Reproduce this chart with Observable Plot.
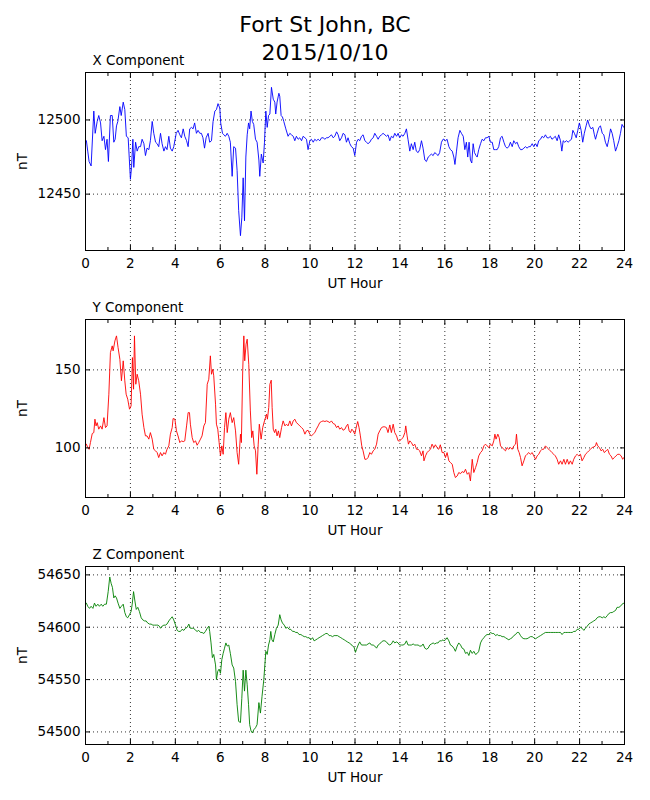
<!DOCTYPE html>
<html>
<head>
<meta charset="utf-8">
<script src="https://cdn.jsdelivr.net/npm/d3@7"></script>
<script src="https://cdn.jsdelivr.net/npm/@observablehq/plot@0.6"></script>
<style>
  html, body { margin: 0; padding: 0; background: white; }
  #fig { position: relative; width: 650px; height: 800px; background: white; font-family: "DejaVu Sans", sans-serif; }
  #title { position: absolute; left: 0; top: 11px; width: 650px; text-align: center; font-size: 22px; line-height: 28px; color: black; z-index: 10; }
  .panel { position: absolute; left: 0; }
</style>
</head>
<body>
<div id="fig">
  <div id="title">Fort St John, BC<br>2015/10/10</div>
</div>
<script>
const xHours = [0.04,0.10,0.16,0.25,0.37,0.43,0.52,0.59,0.67,0.74,0.82,0.89,0.96,1.02,1.11,1.19,1.26,1.32,1.38,1.44,1.53,1.59,1.68,1.75,1.82,1.90,2.00,2.05,2.11,2.15,2.23,2.30,2.37,2.45,2.52,2.60,2.67,2.74,2.82,2.89,2.97,3.04,3.12,3.19,3.26,3.34,3.41,3.49,3.56,3.63,3.71,3.78,3.86,3.93,4.04,4.12,4.20,4.27,4.35,4.42,4.50,4.57,4.64,4.72,4.79,4.86,4.94,5.01,5.09,5.16,5.23,5.30,5.37,5.46,5.53,5.61,5.68,5.76,5.83,5.90,5.98,6.02,6.10,6.16,6.23,6.31,6.38,6.45,6.53,6.60,6.68,6.75,6.82,6.90,6.96,7.02,7.08,7.14,7.20,7.26,7.31,7.37,7.43,7.49,7.57,7.64,7.72,7.76,7.83,7.91,7.97,8.03,8.09,8.15,8.21,8.28,8.36,8.43,8.47,8.53,8.61,8.65,8.71,8.77,8.83,8.92,9.02,9.10,9.17,9.25,9.32,9.39,9.47,9.54,9.62,9.69,9.77,9.84,9.91,9.99,10.06,10.14,10.21,10.28,10.36,10.43,10.51,10.58,10.66,10.73,10.80,10.88,10.95,11.03,11.10,11.18,11.25,11.32,11.40,11.47,11.55,11.62,11.69,11.77,11.84,11.92,11.99,12.07,12.14,12.21,12.29,12.36,12.44,12.51,12.58,12.66,12.73,12.81,12.88,12.96,13.03,13.10,13.18,13.25,13.33,13.40,13.47,13.55,13.62,13.70,13.77,13.85,13.92,13.99,14.07,14.14,14.22,14.29,14.36,14.44,14.51,14.59,14.66,14.73,14.81,14.88,14.96,15.03,15.11,15.18,15.26,15.33,15.40,15.48,15.55,15.63,15.70,15.77,15.85,15.92,15.96,16.03,16.10,16.18,16.25,16.33,16.40,16.45,16.52,16.59,16.67,16.74,16.82,16.89,16.96,17.02,17.08,17.14,17.20,17.26,17.32,17.39,17.44,17.51,17.59,17.66,17.74,17.81,17.88,17.96,18.03,18.11,18.18,18.26,18.33,18.40,18.48,18.55,18.63,18.70,18.77,18.85,18.92,19.00,19.07,19.15,19.22,19.29,19.37,19.44,19.52,19.59,19.66,19.74,19.81,19.89,19.96,20.04,20.11,20.18,20.26,20.33,20.40,20.48,20.55,20.63,20.70,20.77,20.85,20.92,21.00,21.07,21.15,21.21,21.27,21.34,21.42,21.49,21.56,21.64,21.70,21.77,21.85,21.92,21.99,22.07,22.14,22.21,22.29,22.36,22.44,22.51,22.59,22.66,22.71,22.78,22.86,22.93,23.01,23.08,23.15,23.23,23.30,23.38,23.45,23.52,23.60,23.67,23.75,23.82,23.89,23.97];
const xNT = [12486,12479,12472,12469,12506,12491,12499,12503,12498,12486,12489,12480,12487,12472,12503,12503,12485,12487,12496,12499,12509,12503,12512,12507,12489,12488,12460,12468,12487,12468,12485,12479,12482,12482,12487,12484,12476,12481,12480,12486,12499,12491,12485,12484,12482,12491,12484,12479,12482,12480,12489,12481,12479,12482,12491,12493,12490,12488,12494,12489,12486,12482,12494,12495,12494,12498,12491,12493,12491,12491,12488,12481,12488,12491,12485,12486,12499,12506,12507,12511,12508,12498,12491,12490,12489,12491,12489,12485,12462,12482,12481,12466,12439,12422,12434,12461,12432,12475,12490,12498,12494,12506,12499,12497,12487,12485,12473,12462,12477,12471,12485,12506,12495,12503,12504,12522,12514,12512,12504,12512,12518,12516,12503,12502,12499,12494,12489,12491,12490,12489,12486,12489,12487,12488,12486,12489,12488,12487,12480,12486,12487,12485,12487,12486,12487,12486,12488,12488,12487,12488,12488,12489,12490,12488,12489,12492,12490,12486,12488,12491,12490,12485,12488,12484,12482,12481,12476,12485,12487,12486,12489,12490,12486,12485,12484,12485,12487,12488,12491,12489,12487,12489,12490,12491,12490,12489,12490,12486,12489,12488,12491,12489,12491,12488,12490,12489,12491,12494,12487,12479,12484,12480,12485,12479,12478,12480,12486,12481,12473,12472,12475,12476,12477,12476,12478,12477,12476,12478,12485,12487,12487,12486,12487,12482,12480,12479,12475,12470,12479,12488,12493,12491,12489,12480,12485,12475,12485,12473,12471,12484,12478,12476,12475,12480,12484,12487,12486,12488,12488,12489,12485,12485,12480,12480,12480,12482,12488,12489,12485,12482,12481,12482,12485,12482,12486,12484,12485,12482,12480,12480,12481,12482,12481,12482,12482,12484,12482,12484,12482,12486,12487,12489,12488,12490,12488,12488,12489,12487,12488,12489,12486,12490,12486,12479,12486,12485,12486,12485,12486,12487,12493,12491,12488,12493,12498,12493,12485,12491,12496,12500,12496,12494,12495,12490,12487,12491,12495,12496,12491,12490,12485,12482,12487,12494,12491,12486,12479,12482,12486,12491,12497,12495];

const yHours = [0.04,0.10,0.16,0.22,0.30,0.37,0.42,0.47,0.52,0.59,0.67,0.74,0.82,0.89,0.96,1.04,1.11,1.19,1.23,1.31,1.38,1.45,1.53,1.60,1.68,1.75,1.81,1.88,1.96,2.03,2.09,2.14,2.18,2.24,2.30,2.37,2.45,2.52,2.60,2.67,2.74,2.82,2.89,2.97,3.04,3.12,3.19,3.26,3.34,3.41,3.49,3.56,3.63,3.71,3.78,3.86,3.90,3.98,4.05,4.12,4.20,4.27,4.35,4.42,4.50,4.57,4.63,4.67,4.75,4.82,4.90,4.97,5.04,5.12,5.19,5.27,5.34,5.42,5.49,5.56,5.61,5.67,5.71,5.79,5.83,5.89,5.95,6.01,6.07,6.13,6.19,6.25,6.31,6.38,6.45,6.53,6.60,6.68,6.75,6.82,6.90,6.94,7.00,7.05,7.09,7.15,7.20,7.27,7.34,7.40,7.45,7.51,7.57,7.63,7.69,7.74,7.82,7.89,7.97,8.06,8.10,8.16,8.21,8.27,8.31,8.36,8.42,8.47,8.53,8.59,8.65,8.73,8.80,8.88,8.95,9.02,9.10,9.17,9.25,9.32,9.39,9.47,9.54,9.62,9.69,9.77,9.84,9.91,9.99,10.06,10.14,10.21,10.28,10.36,10.43,10.51,10.58,10.66,10.73,10.80,10.88,10.95,11.03,11.10,11.18,11.25,11.32,11.40,11.47,11.55,11.62,11.68,11.74,11.80,11.86,11.92,11.99,12.07,12.12,12.18,12.24,12.30,12.36,12.44,12.51,12.58,12.66,12.73,12.81,12.88,12.96,13.03,13.10,13.18,13.25,13.33,13.40,13.47,13.55,13.62,13.70,13.77,13.85,13.92,13.99,14.07,14.14,14.22,14.26,14.32,14.38,14.44,14.51,14.59,14.66,14.74,14.81,14.88,14.96,15.03,15.07,15.14,15.21,15.28,15.36,15.43,15.51,15.58,15.65,15.73,15.80,15.88,15.96,16.03,16.10,16.18,16.25,16.33,16.40,16.47,16.55,16.62,16.70,16.77,16.85,16.92,17.00,17.07,17.14,17.22,17.29,17.37,17.44,17.51,17.59,17.66,17.74,17.81,17.88,17.96,18.03,18.11,18.18,18.23,18.28,18.36,18.42,18.48,18.55,18.63,18.70,18.77,18.85,18.92,19.00,19.07,19.15,19.19,19.25,19.31,19.37,19.44,19.52,19.59,19.66,19.74,19.81,19.89,19.96,20.04,20.11,20.18,20.26,20.33,20.40,20.48,20.55,20.63,20.70,20.77,20.85,20.92,21.00,21.07,21.15,21.22,21.30,21.37,21.45,21.52,21.59,21.67,21.74,21.82,21.89,21.96,22.04,22.11,22.19,22.26,22.34,22.41,22.48,22.56,22.63,22.71,22.75,22.81,22.88,22.96,23.03,23.10,23.18,23.25,23.33,23.40,23.47,23.55,23.62,23.70,23.77,23.85,23.92,23.97];
const yNT = [102.4,100.2,99.1,103.4,109.2,109.8,118.4,114.1,116.2,112,114.1,112,119.4,113,114.1,134.4,161.1,165.4,162.2,168.6,171.8,164.3,156.8,143,155.8,143,134.4,131.2,124.8,126.9,157.9,137.6,171.8,140.8,147.2,143,134.4,121.6,113,107.7,107.7,105.6,109.8,105.6,99.1,98.1,97,93.8,97,94.9,97,95.9,99.1,101.3,108.8,113,118.8,118.4,110.9,107.7,103.4,104.5,104,104.5,114.1,122.6,122.6,115.2,106.6,103.4,104.5,101.7,103.4,105.6,107.7,114.1,116.2,140.8,144,159,147.2,150.4,146.2,128,115.2,112,103.4,94.9,101.3,95.9,113,122.6,109.8,118.4,122.6,116.2,119.4,110.9,97,89.5,108.8,103.4,149.4,171.8,155.8,166.5,169.7,153.6,123.7,106.6,110.9,101.3,98.1,83.1,102.4,115.2,105.6,113,117.3,121.6,118.4,125.9,140.8,143.4,125.9,112,109.8,112,107.7,110.9,106.6,113,117.3,114.1,115.2,114.1,117.3,114.1,117.3,118.4,116.2,115.2,114.1,113,112,108.8,110.9,111.3,108.8,107.7,108.8,109.8,112,114.1,116.2,116.9,117.3,116.9,117.3,116.9,116.2,117.3,115.6,115.2,113,114.1,112,113,111.3,112,114.1,115.2,110.9,109.8,112,110.9,108.8,114.1,116.9,113,107.7,101.3,98.1,92.7,92.7,93.8,97,95.9,98.1,99.1,102.4,108.8,110.9,113,113.5,113.5,113,109.8,114.7,109.8,115.2,109.8,107.7,104.5,104.5,105.6,106.6,109.8,114.1,107.7,102.4,104.5,103.4,101.3,102.4,99.1,99.1,98.1,94.9,98.1,91.7,94.9,97,98.1,99.1,102.4,100.2,102,100.2,99.1,102,97,97,93.8,97,91.7,90.6,89.5,84.2,81,82,84.2,83.5,84.8,84.2,86.3,83.1,84.2,78.8,92.7,84.2,87.4,90.6,94.9,97,98.1,101.3,102.4,101.3,100.2,102.4,101.3,104.5,108.8,105.6,108.8,106.6,101.3,100.2,99.1,98.1,100.2,99.1,100.2,99.1,101.3,102.4,108.8,99.1,97,93.8,88.5,91.7,94.9,95.9,97,95.9,97,94.9,92.7,94.9,95.9,98.1,99.1,99.1,101.3,100.2,99.1,98.1,97,95.9,94.9,92.7,89.5,91.7,89.5,92.7,89.5,92.7,89.5,91.7,89.5,92.7,94.9,95.9,94.9,95.9,91.7,93.8,95.9,97,98.1,99.1,100.2,100.6,101.3,103.4,101.3,100.2,98.1,99.1,97,98.1,99.1,95.9,94.9,92.7,93.8,94.9,95.9,95.9,94.9,92.7,93.8];

const zHours = [0.04,0.10,0.18,0.25,0.33,0.40,0.47,0.55,0.62,0.70,0.77,0.85,0.93,1.01,1.08,1.14,1.20,1.26,1.32,1.38,1.45,1.53,1.60,1.68,1.75,1.82,1.88,1.96,2.03,2.08,2.14,2.20,2.26,2.33,2.40,2.48,2.55,2.63,2.70,2.77,2.85,2.92,3.00,3.07,3.15,3.22,3.29,3.34,3.41,3.49,3.56,3.63,3.71,3.78,3.86,3.93,4.01,4.08,4.15,4.23,4.30,4.38,4.45,4.53,4.60,4.67,4.75,4.82,4.90,4.97,5.04,5.12,5.19,5.27,5.34,5.42,5.49,5.53,5.59,5.65,5.71,5.79,5.83,5.89,5.95,6.01,6.07,6.13,6.19,6.25,6.31,6.38,6.45,6.53,6.60,6.68,6.75,6.82,6.90,6.96,7.02,7.08,7.14,7.20,7.26,7.31,7.37,7.43,7.49,7.57,7.64,7.72,7.79,7.86,7.94,8.03,8.09,8.15,8.21,8.25,8.30,8.36,8.43,8.50,8.58,8.65,8.71,8.77,8.85,8.92,8.99,9.07,9.14,9.22,9.29,9.36,9.44,9.51,9.59,9.66,9.74,9.81,9.88,9.96,10.03,10.11,10.18,10.26,10.33,10.40,10.48,10.55,10.63,10.70,10.77,10.85,10.92,11.00,11.07,11.15,11.22,11.29,11.37,11.44,11.52,11.59,11.66,11.74,11.81,11.89,11.96,12.02,12.07,12.14,12.21,12.29,12.36,12.44,12.51,12.58,12.66,12.73,12.81,12.88,12.96,13.03,13.10,13.18,13.25,13.33,13.40,13.47,13.55,13.62,13.70,13.77,13.85,13.92,13.99,14.07,14.14,14.22,14.29,14.36,14.44,14.51,14.59,14.66,14.74,14.81,14.88,14.96,15.03,15.11,15.18,15.26,15.33,15.40,15.48,15.55,15.63,15.70,15.77,15.85,15.92,15.96,16.03,16.10,16.18,16.25,16.33,16.40,16.47,16.55,16.62,16.70,16.77,16.85,16.92,17.00,17.07,17.14,17.22,17.29,17.37,17.44,17.51,17.59,17.66,17.74,17.81,17.88,17.96,18.03,18.11,18.18,18.26,18.33,18.40,18.48,18.55,18.63,18.70,18.77,18.85,18.92,19.00,19.07,19.15,19.22,19.29,19.37,19.44,19.52,19.59,19.66,19.74,19.81,19.89,19.96,20.04,20.11,20.18,20.26,20.33,20.40,20.48,20.55,20.63,20.70,20.77,20.85,20.92,21.00,21.07,21.15,21.22,21.30,21.37,21.45,21.52,21.59,21.67,21.74,21.82,21.89,21.96,22.04,22.11,22.19,22.26,22.34,22.41,22.48,22.56,22.63,22.71,22.78,22.86,22.93,23.01,23.08,23.15,23.23,23.30,23.38,23.45,23.52,23.60,23.67,23.75,23.82,23.89,23.97];
const zNT = [54623,54620,54618,54620,54618,54623,54620,54622,54620,54622,54620,54622,54622,54634,54648,54642,54638,54628,54630,54628,54623,54618,54620,54622,54614,54610,54609,54612,54615,54622,54634,54625,54617,54619,54615,54609,54607,54606,54606,54604,54603,54603,54602,54602,54602,54602,54601,54599,54601,54602,54602,54603,54606,54608,54610,54607,54602,54597,54596,54596,54598,54597,54599,54600,54603,54599,54599,54599,54597,54596,54597,54595,54595,54594,54596,54599,54601,54596,54585,54571,54574,54564,54550,54558,54560,54556,54569,54575,54580,54585,54582,54583,54575,54564,54561,54548,54526,54510,54509,54532,54559,54539,54559,54545,54526,54507,54501,54499,54502,54504,54507,54528,54518,54534,54550,54577,54574,54583,54588,54596,54588,54586,54593,54599,54602,54612,54607,54604,54602,54599,54600,54598,54598,54596,54596,54595,54595,54593,54593,54592,54591,54591,54590,54590,54588,54590,54587,54588,54589,54590,54591,54592,54593,54594,54594,54592,54592,54591,54592,54592,54592,54591,54590,54589,54588,54587,54586,54585,54584,54582,54581,54576,54579,54583,54586,54583,54583,54583,54583,54584,54585,54583,54583,54582,54580,54583,54584,54586,54587,54587,54586,54584,54583,54584,54587,54585,54586,54585,54583,54583,54583,54584,54587,54583,54583,54583,54584,54583,54583,54583,54582,54582,54584,54580,54579,54580,54583,54584,54585,54584,54585,54585,54587,54587,54588,54587,54588,54590,54587,54583,54582,54580,54577,54582,54585,54583,54580,54579,54575,54576,54573,54578,54575,54577,54574,54575,54577,54585,54588,54590,54592,54593,54593,54595,54594,54594,54592,54593,54592,54592,54591,54591,54590,54589,54588,54589,54590,54592,54593,54595,54595,54592,54590,54589,54589,54589,54590,54591,54591,54590,54589,54590,54591,54592,54593,54594,54595,54595,54595,54595,54595,54595,54595,54595,54595,54595,54593,54595,54595,54595,54595,54595,54595,54596,54596,54598,54598,54600,54599,54597,54599,54601,54603,54604,54605,54606,54607,54609,54610,54610,54609,54610,54609,54611,54613,54614,54614,54615,54616,54619,54619,54620,54622,54623];

const majorHours = [0,2,4,6,8,10,12,14,16,18,20,22,24];
const minorHours = [1,3,5,7,9,11,13,15,17,19,21,23];

const panels = [
  {title: "X Component", hours: xHours, values: xNT, color: "#0000ff", domain: [12412, 12532], ticks: [12450, 12500]},
  {title: "Y Component", hours: yHours, values: yNT, color: "#ff0000", domain: [68.2, 182.3], ticks: [100, 150]},
  {title: "Z Component", hours: zHours, values: zNT, color: "#008000", domain: [54488, 54658], ticks: [54500, 54550, 54600, 54650]}
];
const panelTops = [47, 294, 541];

const fig = document.getElementById("fig");
panels.forEach((p, k) => {
  const data = p.hours.map((h, i) => ({hour: h, nT: p.values[i]}));
  const gridStyle = {stroke: "black", strokeOpacity: 1, strokeWidth: 0.8, strokeDasharray: "1,3"};
  const chart = Plot.plot({
    width: 650,
    height: 247,
    marginLeft: 85,
    marginRight: 26,
    marginTop: 25,
    marginBottom: 44,
    style: {fontFamily: "DejaVu Sans", fontSize: "13.5px", color: "black", background: "transparent", overflow: "visible"},
    x: {domain: [0, 24]},
    y: {domain: p.domain},
    marks: [
      Plot.gridX(majorHours.slice(1, -1), gridStyle),
      Plot.gridY(p.ticks, gridStyle),
      Plot.line(data, {x: "hour", y: "nT", stroke: p.color, strokeWidth: 0.9}),
      Plot.axisX(majorHours, {anchor: "bottom", tickSize: -5, tickPadding: 13, tickFormat: d => String(d), label: "UT Hour", labelAnchor: "center", labelArrow: "none", labelOffset: 37}),
      Plot.axisX(minorHours, {anchor: "bottom", tickSize: -3, tickFormat: () => "", label: null}),
      Plot.axisX(majorHours, {anchor: "top", tickSize: -5, tickFormat: () => "", label: null}),
      Plot.axisX(minorHours, {anchor: "top", tickSize: -3, tickFormat: () => "", label: null}),
      Plot.axisY(p.ticks, {anchor: "left", tickSize: -5, tickPadding: 10, tickFormat: d => String(d), label: "nT", labelAnchor: "center", labelArrow: "none", labelOffset: 68}),
      Plot.axisY(p.ticks, {anchor: "right", tickSize: -5, tickFormat: () => "", label: null}),
      Plot.frame({stroke: "black", strokeWidth: 1}),
      Plot.text([p.title], {frameAnchor: "top-left", dx: 7, dy: -8, textAnchor: "start", lineAnchor: "bottom", fontSize: 13.5})
    ]
  });
  chart.classList.add("panel");
  chart.style.position = "absolute";
  chart.style.top = panelTops[k] + "px";
  chart.style.left = "0px";
  fig.appendChild(chart);
});
</script>
</body>
</html>
